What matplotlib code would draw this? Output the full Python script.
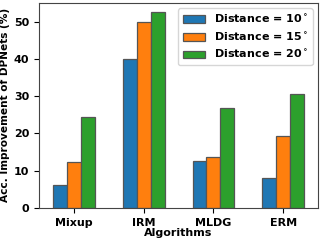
import matplotlib
matplotlib.use("Agg")
import matplotlib.pyplot as plt
import numpy as np

algorithms = ["Mixup", "IRM", "MLDG", "ERM"]
dist10 = [6.2, 40.0, 12.5, 8.0]
dist15 = [12.4, 50.0, 13.7, 19.3]
dist20 = [24.4, 52.5, 26.8, 30.6]
labels = ["Distance = 10$^\\circ$", "Distance = 15$^\\circ$", "Distance = 20$^\\circ$"]
colors = ["#1f77b4", "#ff7f0e", "#2ca02c"]

plt.rcParams["font.weight"] = "bold"
plt.rcParams["axes.labelweight"] = "bold"
plt.rcParams["font.size"] = 8

fig, ax = plt.subplots(figsize=(3.2, 2.41), dpi=100)
x = np.arange(len(algorithms))
w = 0.2
for i, (vals, lab, c) in enumerate(zip([dist10, dist15, dist20], labels, colors)):
    ax.bar(x + (i - 1) * w, vals, w, label=lab, color=c, edgecolor="#555555", linewidth=0.9)

ax.set_xticks(x)
ax.set_xticklabels(algorithms)
ax.set_xlim(-0.5, 3.5)
ax.set_ylim(0, 55)
ax.set_yticks([0, 10, 20, 30, 40, 50])
ax.set_xlabel("Algorithms", labelpad=0)
ax.set_ylabel("Acc. Improvement of DPNets (%)", labelpad=3, fontsize=7.6)
for s in ax.spines.values():
    s.set_color("#444444")
ax.legend(loc="upper right", prop={"weight": "bold", "size": 8})
fig.subplots_adjust(left=0.122, right=0.994, top=0.988, bottom=0.137)
fig.savefig("out.png", dpi=100)
